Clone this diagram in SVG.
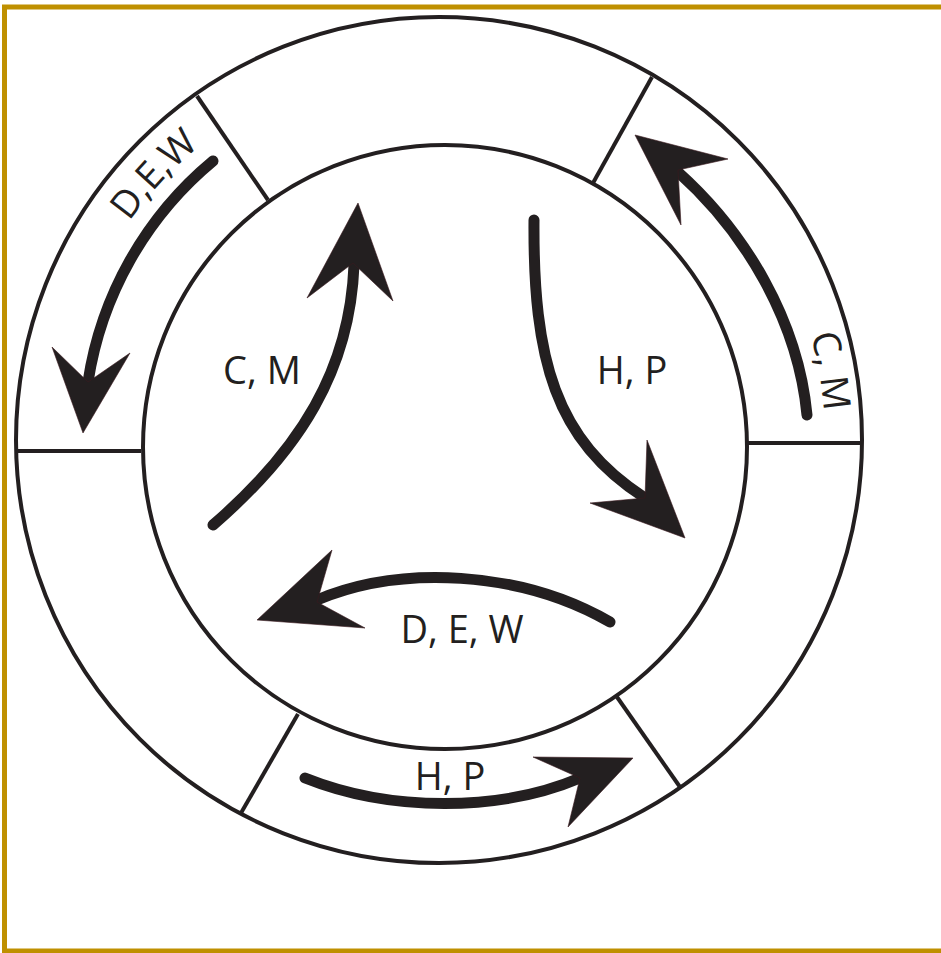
<svg xmlns="http://www.w3.org/2000/svg" width="941" height="953" viewBox="0 0 941 953">
<style>
.ring{fill:none;stroke:#231f20;stroke-width:4}
.div{stroke:#231f20;stroke-width:4;fill:none}
.arc{fill:none;stroke:#231f20;stroke-width:11;stroke-linecap:round}
.head{fill:#231f20;stroke:#3a1a1e;stroke-width:0.6}
.lbl{font-family:"Open Sans","Liberation Sans",sans-serif;font-size:38px;fill:#231f20}
</style>
<defs>
<path id="p-dew" d="M69.7,354.7 A379,379 0 0,1 328.2,77.6"/>
<path id="p-cm" d="M734.7,191.9 A386,386 0 0,1 801.7,572.0"/>
</defs>
<rect width="941" height="953" fill="#fff"/>
<g id="frame">
<path d="M941,7 H4.5 V951 H941" fill="none" stroke="#bf9000" stroke-width="5"/>
</g>
<g id="outer-ring">
<circle class="ring" cx="439" cy="440" r="423"/>
<line class="div" x1="197" y1="96" x2="268" y2="200"/>
<line class="div" x1="652" y1="77" x2="593" y2="183"/>
<line class="div" x1="748" y1="443" x2="861" y2="443"/>
<line class="div" x1="17" y1="451" x2="141" y2="451"/>
<line class="div" x1="241" y1="813" x2="298" y2="714"/>
<line class="div" x1="680" y1="787" x2="617" y2="697"/>
</g>
<g id="inner-circle">
<circle class="ring" cx="445" cy="447" r="302"/>
</g>
<g id="connectors">
<g id="arrow-outer-dew">
<path class="arc" d="M213,161 A357,357 0 0,0 88,382"/>
<polygon class="head" points="83,433 52,347 88,382 130,353"/>
</g>
<g id="arrow-outer-cm">
<path class="arc" d="M807,415 C798,320 745,232 678,172"/>
<polygon class="head" points="635,135 728,159 678,170 681,225"/>
</g>
<g id="arrow-inner-cm">
<path class="arc" d="M213,525 C300,450 350,370 354,265"/>
<polygon class="head" points="358,203 393,301 353,263 307,298"/>
</g>
<g id="arrow-inner-hp">
<path class="arc" d="M534,220 C533,360 555,440 645,498"/>
<polygon class="head" points="685,538 590,503 645,498 647,440"/>
</g>
<g id="arrow-inner-dew">
<path class="arc" d="M610,622 C520,570 400,565 317,600"/>
<polygon class="head" points="257,620 332,550 317,602 365,628"/>
</g>
<g id="arrow-outer-hp">
<path class="arc" d="M305,778 C390,812 500,812 580,778"/>
<polygon class="head" points="633,758 568,827 580,778 533,757"/>
</g>
</g>
<g id="labels">
<text class="lbl"><textPath href="#p-dew" startOffset="50%" text-anchor="middle">D,E,W</textPath></text>
<text class="lbl"><textPath href="#p-cm" startOffset="50%" text-anchor="middle">C, M</textPath></text>
<text class="lbl" x="262" y="384" text-anchor="middle">C, M</text>
<text class="lbl" x="632" y="384" text-anchor="middle">H, P</text>
<text class="lbl" x="462" y="643" text-anchor="middle">D, E, W</text>
<text class="lbl" x="450" y="790" text-anchor="middle">H, P</text>
</g>
</svg>
